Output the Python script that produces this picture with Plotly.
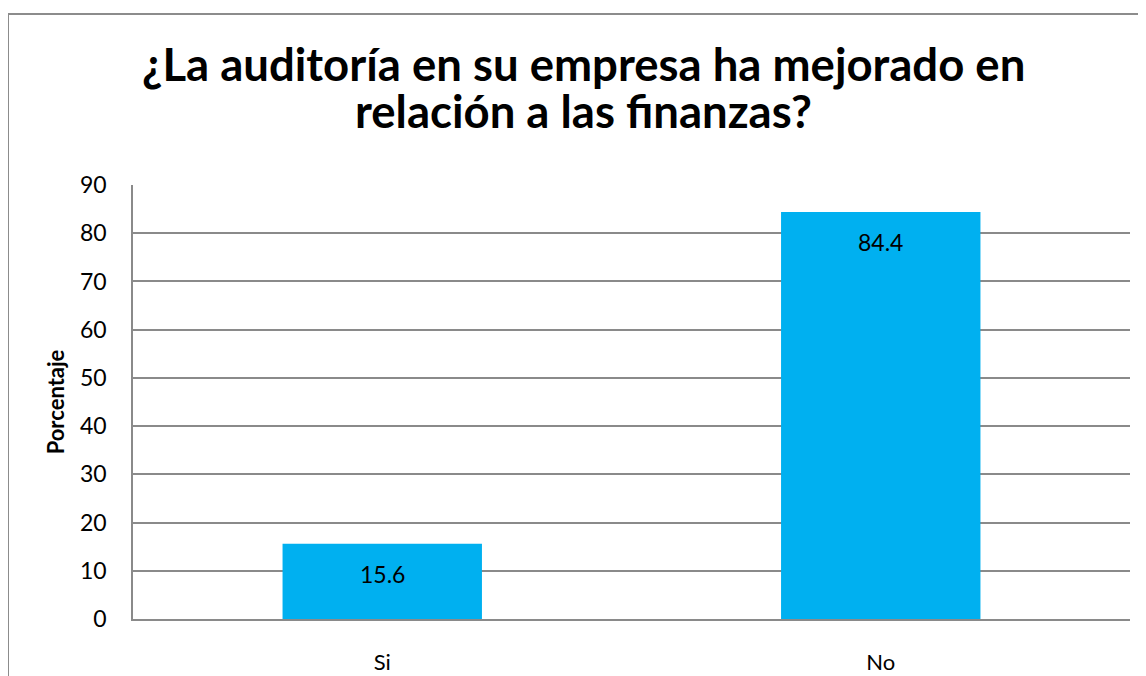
import plotly.graph_objects as go

categories = ["Si", "No"]
values = [15.6, 84.4]
y_ticks = [0, 10, 20, 30, 40, 50, 60, 70, 80, 90]
title_lines = ["¿La auditoría en su empresa ha mejorado en", "relación a las finanzas?"]
y_title = "Porcentaje"

FONT = "Lato, Open Sans, sans-serif"
W, H = 1138, 668          # page body keeps an 8px margin
L, R, T, B = 125, 16, 177, 57
pw = W - L - R
ph = H - T - B


def px_to_paper_x(px):
    return (px - L) / pw


def px_to_paper_y(py):
    return (H - B - py) / ph


fig = go.Figure()
fig.add_trace(go.Bar(
    x=categories, y=values,
    marker=dict(color="#00B0F0", line=dict(width=0)),
    width=0.4,
    hoverinfo="skip",
))

for c, v in zip(categories, values):
    fig.add_annotation(x=c, y=v, yshift=-30, text=f"{v:.1f}", showarrow=False,
                       font=dict(family=FONT, size=23, color="#000000"),
                       xanchor="center", yanchor="middle")

# title (two centred lines)
for i, (line, cy) in enumerate(zip(title_lines, [55, 103])):
    fig.add_annotation(xref="paper", yref="paper", x=px_to_paper_x(575), y=px_to_paper_y(cy),
                       text=f"<b>{line}</b>", showarrow=False, xanchor="center", yanchor="middle",
                       font=dict(family=FONT, size=45.5, color="#000000"))

# outer chart border
fig.add_shape(type="rect", xref="paper", yref="paper",
              x0=px_to_paper_x(0), x1=px_to_paper_x(W + 40),
              y0=px_to_paper_y(H + 40), y1=px_to_paper_y(6),
              line=dict(color="#8c8c8c", width=2), fillcolor="rgba(0,0,0,0)", layer="below")

fig.update_layout(
    width=W, height=H,
    margin=dict(l=L, r=R, t=T, b=B, autoexpand=False),
    paper_bgcolor="white", plot_bgcolor="white",
    showlegend=False,
    font=dict(family=FONT, color="#000000"),
    bargap=0.6,
)
fig.update_yaxes(range=[0, 90], tickvals=y_ticks, showgrid=True, gridcolor="#8a8a8a", gridwidth=1.5,
                 showline=True, linecolor="#8a8a8a", linewidth=1.5, zeroline=False, automargin=False,
                 ticks="", ticklabelstandoff=20, tickfont=dict(size=23),
                 title=dict(text=f"<b>{y_title}</b>", font=dict(size=22), standoff=9))
fig.update_xaxes(showline=True, linecolor="#8a8a8a", linewidth=1.5, showgrid=False, automargin=False,
                 ticks="", ticklabelstandoff=23, tickfont=dict(size=22))

fig.write_html("out.html")
